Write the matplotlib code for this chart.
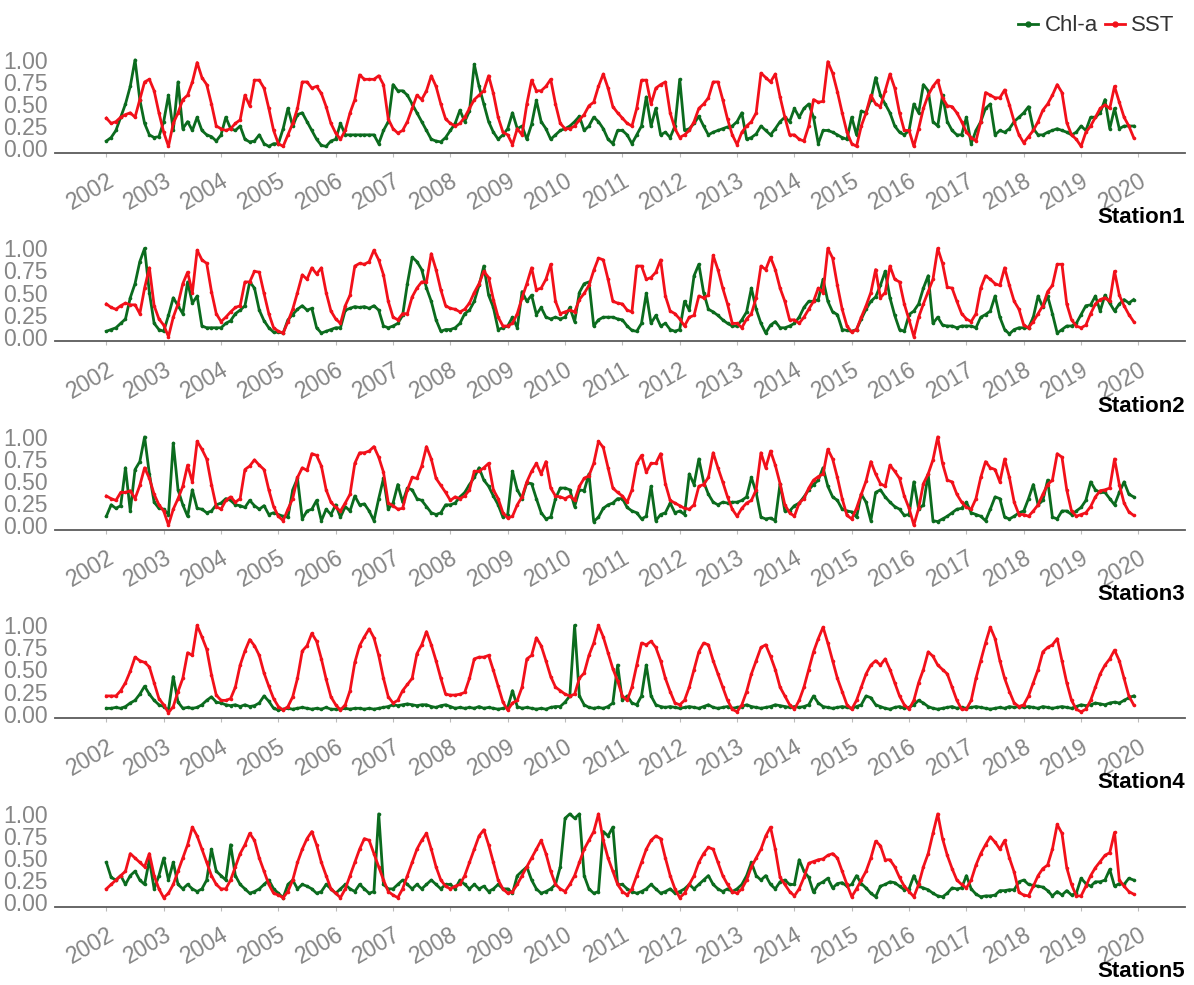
import numpy as np
import matplotlib
matplotlib.use('Agg')
import matplotlib.pyplot as plt
from matplotlib.lines import Line2D

# ==============================================================================
# --- 1. Data: monthly normalised Chl-a and SST, Jan 2002 - Dec 2019 ---
# ==============================================================================

years = list(range(2002, 2021))
stations = ['Station1', 'Station2', 'Station3', 'Station4', 'Station5']

chl_s1 = [
    0.08, 0.12, 0.20, 0.35, 0.50, 0.70, 1.00, 0.55, 0.28, 0.15, 0.12, 0.13,  # 2002
    0.30, 0.60, 0.20, 0.75, 0.22, 0.30, 0.20, 0.35, 0.20, 0.15, 0.13, 0.08,  # 2003
    0.15, 0.35, 0.22, 0.20, 0.25, 0.10, 0.07, 0.08, 0.15, 0.05, 0.02, 0.05,  # 2004
    0.05, 0.22, 0.45, 0.25, 0.38, 0.40, 0.30, 0.20, 0.10, 0.03, 0.02, 0.08,  # 2005
    0.10, 0.28, 0.15, 0.15, 0.15, 0.15, 0.15, 0.15, 0.15, 0.05, 0.20, 0.30,  # 2006
    0.72, 0.65, 0.65, 0.60, 0.50, 0.40, 0.30, 0.20, 0.10, 0.08, 0.07, 0.12,  # 2007
    0.20, 0.28, 0.43, 0.30, 0.42, 0.95, 0.70, 0.50, 0.30, 0.18, 0.10, 0.15,  # 2008
    0.22, 0.40, 0.22, 0.25, 0.10, 0.27, 0.54, 0.30, 0.22, 0.10, 0.15, 0.20,  # 2009
    0.22, 0.25, 0.30, 0.36, 0.20, 0.25, 0.35, 0.30, 0.22, 0.10, 0.05, 0.20,  # 2010
    0.20, 0.15, 0.05, 0.15, 0.25, 0.58, 0.25, 0.45, 0.15, 0.18, 0.12, 0.25,  # 2011
    0.78, 0.20, 0.22, 0.28, 0.36, 0.25, 0.15, 0.18, 0.20, 0.22, 0.24, 0.25,  # 2012
    0.30, 0.40, 0.10, 0.12, 0.16, 0.25, 0.20, 0.15, 0.22, 0.30, 0.35, 0.30,  # 2013
    0.45, 0.35, 0.45, 0.50, 0.35, 0.05, 0.20, 0.20, 0.18, 0.15, 0.12, 0.10,  # 2014
    0.35, 0.15, 0.42, 0.40, 0.55, 0.80, 0.60, 0.50, 0.40, 0.25, 0.18, 0.15,  # 2015
    0.20, 0.50, 0.40, 0.72, 0.65, 0.30, 0.25, 0.60, 0.30, 0.20, 0.15, 0.15,  # 2016
    0.35, 0.05, 0.20, 0.30, 0.45, 0.50, 0.15, 0.20, 0.18, 0.22, 0.30, 0.35,  # 2017
    0.40, 0.47, 0.22, 0.15, 0.15, 0.18, 0.20, 0.22, 0.20, 0.18, 0.15, 0.18,  # 2018
    0.25, 0.20, 0.35, 0.35, 0.40, 0.55, 0.22, 0.45, 0.22, 0.25, 0.25, 0.25,  # 2019
]
sst_s1 = [
    0.34, 0.28, 0.30, 0.35, 0.38, 0.40, 0.35, 0.55, 0.75, 0.78, 0.65, 0.40,
    0.18, 0.02, 0.28, 0.40, 0.55, 0.60, 0.75, 0.97, 0.80, 0.72, 0.50, 0.25,
    0.22, 0.20, 0.22, 0.28, 0.32, 0.60, 0.48, 0.77, 0.77, 0.68, 0.45, 0.20,
    0.05, 0.02, 0.15, 0.28, 0.45, 0.75, 0.75, 0.68, 0.70, 0.62, 0.47, 0.28,
    0.17, 0.10, 0.20, 0.40, 0.55, 0.83, 0.78, 0.78, 0.78, 0.82, 0.72, 0.33,
    0.22, 0.17, 0.20, 0.30, 0.45, 0.60, 0.55, 0.65, 0.82, 0.70, 0.50, 0.33,
    0.28, 0.25, 0.28, 0.35, 0.45, 0.55, 0.60, 0.65, 0.82, 0.62, 0.35, 0.18,
    0.15, 0.04, 0.22, 0.15, 0.50, 0.77, 0.65, 0.65, 0.70, 0.78, 0.50, 0.28,
    0.22, 0.22, 0.25, 0.32, 0.38, 0.48, 0.52, 0.70, 0.84, 0.68, 0.47, 0.40,
    0.34, 0.28, 0.25, 0.45, 0.77, 0.77, 0.50, 0.68, 0.72, 0.75, 0.40, 0.22,
    0.12, 0.15, 0.20, 0.30, 0.45, 0.50, 0.57, 0.75, 0.75, 0.55, 0.33, 0.15,
    0.04, 0.18, 0.25, 0.30, 0.40, 0.85, 0.80, 0.75, 0.84, 0.58, 0.35, 0.15,
    0.15, 0.10, 0.08, 0.25, 0.55, 0.52, 0.53, 0.98, 0.85, 0.64, 0.40, 0.18,
    0.05, 0.02, 0.25, 0.40, 0.60, 0.50, 0.47, 0.65, 0.84, 0.68, 0.40, 0.20,
    0.20, 0.02, 0.22, 0.45, 0.60, 0.70, 0.77, 0.57, 0.48, 0.47, 0.40, 0.30,
    0.18, 0.12, 0.08, 0.30, 0.63, 0.60, 0.57, 0.57, 0.66, 0.49, 0.30, 0.15,
    0.06, 0.13, 0.20, 0.30, 0.43, 0.50, 0.60, 0.72, 0.63, 0.29, 0.15, 0.10,
    0.02, 0.18, 0.25, 0.35, 0.45, 0.49, 0.45, 0.70, 0.52, 0.35, 0.25, 0.12,
]

chl_s2 = [
    0.06, 0.08, 0.10, 0.15, 0.20, 0.44, 0.60, 0.85, 1.00, 0.50, 0.15, 0.08,
    0.06, 0.24, 0.44, 0.35, 0.26, 0.62, 0.38, 0.46, 0.12, 0.10, 0.10, 0.10,
    0.10, 0.15, 0.18, 0.26, 0.30, 0.35, 0.62, 0.55, 0.30, 0.18, 0.10, 0.05,
    0.05, 0.04, 0.19, 0.25, 0.31, 0.35, 0.30, 0.32, 0.10, 0.04, 0.06, 0.08,
    0.10, 0.10, 0.30, 0.32, 0.34, 0.33, 0.34, 0.32, 0.35, 0.30, 0.12, 0.10,
    0.12, 0.15, 0.24, 0.60, 0.90, 0.85, 0.76, 0.55, 0.40, 0.19, 0.06, 0.08,
    0.08, 0.10, 0.15, 0.26, 0.30, 0.40, 0.58, 0.80, 0.47, 0.33, 0.08, 0.10,
    0.12, 0.22, 0.10, 0.51, 0.40, 0.47, 0.25, 0.33, 0.22, 0.20, 0.22, 0.20,
    0.22, 0.33, 0.17, 0.50, 0.60, 0.62, 0.12, 0.19, 0.22, 0.22, 0.22, 0.20,
    0.19, 0.12, 0.07, 0.06, 0.15, 0.49, 0.15, 0.24, 0.12, 0.15, 0.08, 0.06,
    0.08, 0.40, 0.30, 0.69, 0.82, 0.50, 0.31, 0.28, 0.24, 0.19, 0.15, 0.12,
    0.12, 0.19, 0.28, 0.55, 0.31, 0.15, 0.04, 0.13, 0.17, 0.10, 0.10, 0.12,
    0.15, 0.22, 0.33, 0.40, 0.40, 0.42, 0.65, 0.40, 0.28, 0.25, 0.08, 0.07,
    0.06, 0.08, 0.20, 0.31, 0.40, 0.45, 0.58, 0.74, 0.44, 0.24, 0.08, 0.06,
    0.25, 0.29, 0.37, 0.55, 0.69, 0.15, 0.22, 0.13, 0.12, 0.12, 0.10, 0.12,
    0.12, 0.12, 0.10, 0.22, 0.25, 0.29, 0.46, 0.22, 0.08, 0.03, 0.08, 0.10,
    0.10, 0.10, 0.22, 0.46, 0.33, 0.46, 0.26, 0.04, 0.08, 0.12, 0.12, 0.15,
    0.25, 0.35, 0.36, 0.46, 0.29, 0.47, 0.38, 0.29, 0.37, 0.42, 0.38, 0.42,
]
sst_s2 = [
    0.37, 0.33, 0.31, 0.35, 0.38, 0.36, 0.36, 0.26, 0.55, 0.78, 0.35, 0.20,
    0.13, 0.00, 0.22, 0.37, 0.60, 0.73, 0.50, 0.98, 0.87, 0.83, 0.51, 0.26,
    0.17, 0.22, 0.28, 0.33, 0.35, 0.62, 0.62, 0.74, 0.73, 0.49, 0.26, 0.10,
    0.06, 0.04, 0.17, 0.31, 0.50, 0.70, 0.65, 0.78, 0.71, 0.78, 0.50, 0.29,
    0.20, 0.15, 0.35, 0.47, 0.80, 0.83, 0.82, 0.85, 0.98, 0.87, 0.70, 0.40,
    0.22, 0.19, 0.26, 0.26, 0.45, 0.55, 0.62, 0.62, 0.94, 0.76, 0.53, 0.35,
    0.32, 0.31, 0.28, 0.31, 0.38, 0.50, 0.60, 0.74, 0.67, 0.42, 0.22, 0.12,
    0.12, 0.15, 0.26, 0.44, 0.60, 0.78, 0.53, 0.55, 0.65, 0.82, 0.40, 0.26,
    0.28, 0.30, 0.28, 0.42, 0.49, 0.58, 0.75, 0.89, 0.87, 0.65, 0.40, 0.38,
    0.37, 0.30, 0.28, 0.80, 0.80, 0.65, 0.67, 0.73, 0.87, 0.46, 0.29, 0.26,
    0.20, 0.12, 0.22, 0.24, 0.46, 0.44, 0.47, 0.92, 0.76, 0.55, 0.37, 0.15,
    0.15, 0.10, 0.20, 0.26, 0.44, 0.80, 0.76, 0.90, 0.76, 0.55, 0.40, 0.19,
    0.19, 0.15, 0.22, 0.31, 0.40, 0.55, 0.50, 1.00, 0.89, 0.58, 0.31, 0.12,
    0.05, 0.08, 0.22, 0.35, 0.50, 0.76, 0.44, 0.50, 0.80, 0.65, 0.62, 0.37,
    0.19, 0.00, 0.22, 0.37, 0.51, 0.65, 1.00, 0.83, 0.56, 0.55, 0.40, 0.26,
    0.20, 0.17, 0.26, 0.55, 0.69, 0.65, 0.60, 0.58, 0.78, 0.58, 0.40, 0.31,
    0.13, 0.10, 0.17, 0.26, 0.35, 0.51, 0.58, 0.82, 0.82, 0.37, 0.19, 0.12,
    0.10, 0.13, 0.26, 0.37, 0.42, 0.44, 0.40, 0.74, 0.47, 0.35, 0.25, 0.17,
]

chl_s3 = [
    0.10, 0.23, 0.19, 0.22, 0.65, 0.16, 0.63, 0.72, 1.00, 0.58, 0.26, 0.19,
    0.18, 0.12, 0.93, 0.40, 0.23, 0.10, 0.40, 0.19, 0.18, 0.14, 0.16, 0.23,
    0.25, 0.30, 0.28, 0.23, 0.22, 0.20, 0.28, 0.22, 0.18, 0.22, 0.12, 0.14,
    0.12, 0.10, 0.09, 0.40, 0.53, 0.07, 0.16, 0.18, 0.28, 0.05, 0.18, 0.12,
    0.23, 0.09, 0.21, 0.16, 0.33, 0.23, 0.24, 0.16, 0.05, 0.30, 0.53, 0.18,
    0.25, 0.46, 0.26, 0.42, 0.40, 0.30, 0.28, 0.21, 0.14, 0.12, 0.14, 0.23,
    0.23, 0.25, 0.32, 0.37, 0.46, 0.54, 0.65, 0.51, 0.44, 0.33, 0.23, 0.09,
    0.12, 0.61, 0.40, 0.30, 0.48, 0.47, 0.30, 0.14, 0.07, 0.09, 0.30, 0.42,
    0.42, 0.40, 0.21, 0.40, 0.39, 0.58, 0.04, 0.09, 0.19, 0.23, 0.25, 0.30,
    0.30, 0.20, 0.16, 0.14, 0.07, 0.10, 0.44, 0.05, 0.12, 0.14, 0.25, 0.14,
    0.16, 0.12, 0.58, 0.46, 0.75, 0.49, 0.35, 0.26, 0.23, 0.26, 0.25, 0.26,
    0.26, 0.28, 0.32, 0.54, 0.37, 0.09, 0.07, 0.08, 0.05, 0.47, 0.16, 0.16,
    0.22, 0.25, 0.32, 0.40, 0.46, 0.51, 0.65, 0.44, 0.32, 0.28, 0.18, 0.16,
    0.15, 0.09, 0.35, 0.26, 0.05, 0.37, 0.40, 0.32, 0.26, 0.21, 0.18, 0.11,
    0.12, 0.49, 0.18, 0.23, 0.58, 0.05, 0.04, 0.07, 0.10, 0.14, 0.18, 0.19,
    0.26, 0.14, 0.12, 0.10, 0.05, 0.18, 0.32, 0.30, 0.09, 0.07, 0.10, 0.14,
    0.16, 0.30, 0.46, 0.23, 0.28, 0.51, 0.09, 0.07, 0.16, 0.16, 0.12, 0.16,
    0.20, 0.28, 0.49, 0.40, 0.37, 0.37, 0.30, 0.23, 0.37, 0.49, 0.35, 0.32,
]
sst_s3 = [
    0.33, 0.30, 0.28, 0.37, 0.37, 0.39, 0.30, 0.45, 0.65, 0.53, 0.35, 0.23,
    0.16, 0.00, 0.18, 0.30, 0.44, 0.68, 0.49, 0.95, 0.86, 0.75, 0.46, 0.21,
    0.18, 0.28, 0.32, 0.26, 0.30, 0.63, 0.67, 0.74, 0.68, 0.63, 0.40, 0.21,
    0.10, 0.05, 0.18, 0.30, 0.54, 0.65, 0.62, 0.81, 0.79, 0.67, 0.40, 0.26,
    0.20, 0.16, 0.25, 0.35, 0.70, 0.82, 0.82, 0.84, 0.89, 0.77, 0.60, 0.25,
    0.22, 0.18, 0.19, 0.40, 0.54, 0.53, 0.67, 0.89, 0.75, 0.53, 0.45, 0.37,
    0.28, 0.32, 0.30, 0.33, 0.40, 0.61, 0.61, 0.65, 0.70, 0.40, 0.30, 0.14,
    0.08, 0.10, 0.23, 0.32, 0.49, 0.61, 0.70, 0.58, 0.72, 0.42, 0.33, 0.32,
    0.30, 0.33, 0.28, 0.44, 0.53, 0.56, 0.70, 0.95, 0.88, 0.65, 0.42, 0.37,
    0.33, 0.26, 0.40, 0.70, 0.79, 0.60, 0.70, 0.70, 0.81, 0.47, 0.28, 0.25,
    0.22, 0.19, 0.18, 0.23, 0.44, 0.46, 0.54, 0.82, 0.65, 0.49, 0.32, 0.18,
    0.10, 0.19, 0.25, 0.28, 0.40, 0.82, 0.65, 0.84, 0.68, 0.47, 0.23, 0.14,
    0.10, 0.25, 0.30, 0.42, 0.51, 0.55, 0.58, 0.86, 0.75, 0.54, 0.30, 0.11,
    0.07, 0.19, 0.35, 0.50, 0.72, 0.58, 0.47, 0.44, 0.68, 0.61, 0.53, 0.33,
    0.19, 0.00, 0.19, 0.47, 0.58, 0.74, 1.00, 0.70, 0.51, 0.49, 0.35, 0.26,
    0.20, 0.18, 0.30, 0.54, 0.72, 0.65, 0.63, 0.49, 0.75, 0.54, 0.26, 0.12,
    0.12, 0.10, 0.16, 0.23, 0.35, 0.46, 0.51, 0.81, 0.77, 0.40, 0.16, 0.10,
    0.12, 0.14, 0.21, 0.32, 0.39, 0.40, 0.42, 0.75, 0.46, 0.25, 0.15, 0.11,
]

chl_s4 = [
    0.06, 0.06, 0.07, 0.06, 0.08, 0.12, 0.15, 0.22, 0.31, 0.22, 0.15, 0.10,
    0.08, 0.04, 0.42, 0.13, 0.06, 0.07, 0.06, 0.07, 0.10, 0.15, 0.19, 0.13,
    0.12, 0.10, 0.09, 0.10, 0.08, 0.10, 0.08, 0.09, 0.12, 0.20, 0.14, 0.06,
    0.04, 0.05, 0.06, 0.05, 0.06, 0.07, 0.06, 0.05, 0.06, 0.05, 0.07, 0.05,
    0.05, 0.05, 0.06, 0.05, 0.06, 0.06, 0.05, 0.06, 0.05, 0.06, 0.07, 0.08,
    0.10, 0.09, 0.10, 0.11, 0.10, 0.09, 0.10, 0.10, 0.08, 0.07, 0.09, 0.10,
    0.08, 0.06, 0.07, 0.06, 0.07, 0.06, 0.08, 0.06, 0.07, 0.06, 0.05, 0.06,
    0.07, 0.26, 0.08, 0.06, 0.07, 0.06, 0.05, 0.06, 0.05, 0.07, 0.08, 0.08,
    0.13, 0.20, 1.00, 0.20, 0.10, 0.07, 0.06, 0.07, 0.06, 0.08, 0.12, 0.55,
    0.15, 0.20, 0.12, 0.10, 0.20, 0.55, 0.20, 0.10, 0.08, 0.07, 0.08, 0.07,
    0.06, 0.07, 0.08, 0.07, 0.06, 0.08, 0.10, 0.07, 0.06, 0.07, 0.08, 0.06,
    0.07, 0.08, 0.10, 0.08, 0.07, 0.06, 0.07, 0.08, 0.10, 0.09, 0.08, 0.07,
    0.08, 0.07, 0.08, 0.10, 0.20, 0.12, 0.08, 0.07, 0.06, 0.07, 0.08, 0.07,
    0.06, 0.08, 0.10, 0.20, 0.18, 0.10, 0.08, 0.06, 0.05, 0.07, 0.08, 0.06,
    0.07, 0.10, 0.15, 0.12, 0.08, 0.06, 0.05, 0.06, 0.07, 0.08, 0.06, 0.07,
    0.06, 0.07, 0.08, 0.07, 0.06, 0.05, 0.06, 0.07, 0.06, 0.08, 0.07, 0.08,
    0.07, 0.08, 0.07, 0.06, 0.08, 0.07, 0.06, 0.07, 0.08, 0.07, 0.06, 0.08,
    0.10, 0.09, 0.10, 0.12, 0.11, 0.10, 0.12, 0.13, 0.12, 0.15, 0.18, 0.20,
]
sst_s4 = [
    0.20, 0.20, 0.20, 0.26, 0.35, 0.48, 0.64, 0.60, 0.58, 0.53, 0.35, 0.17,
    0.10, 0.01, 0.08, 0.25, 0.40, 0.69, 0.66, 1.00, 0.87, 0.73, 0.44, 0.21,
    0.15, 0.15, 0.17, 0.30, 0.55, 0.71, 0.84, 0.77, 0.66, 0.46, 0.31, 0.17,
    0.08, 0.04, 0.08, 0.19, 0.40, 0.71, 0.77, 0.91, 0.82, 0.62, 0.39, 0.19,
    0.10, 0.04, 0.10, 0.26, 0.58, 0.77, 0.87, 0.96, 0.86, 0.66, 0.40, 0.19,
    0.12, 0.15, 0.26, 0.33, 0.40, 0.68, 0.78, 0.93, 0.78, 0.60, 0.40, 0.22,
    0.21, 0.21, 0.22, 0.24, 0.40, 0.62, 0.64, 0.64, 0.66, 0.49, 0.31, 0.13,
    0.04, 0.12, 0.15, 0.30, 0.62, 0.66, 0.86, 0.77, 0.60, 0.42, 0.30, 0.26,
    0.22, 0.20, 0.22, 0.40, 0.46, 0.66, 0.80, 1.00, 0.87, 0.69, 0.51, 0.37,
    0.20, 0.15, 0.30, 0.55, 0.80, 0.78, 0.82, 0.75, 0.60, 0.40, 0.25, 0.12,
    0.10, 0.15, 0.30, 0.50, 0.70, 0.80, 0.78, 0.60, 0.45, 0.30, 0.15, 0.05,
    0.02, 0.10, 0.25, 0.45, 0.60, 0.75, 0.78, 0.65, 0.50, 0.30, 0.20, 0.10,
    0.05, 0.15, 0.30, 0.50, 0.70, 0.85, 0.98, 0.80, 0.60, 0.40, 0.25, 0.10,
    0.05, 0.15, 0.30, 0.45, 0.55, 0.60, 0.55, 0.62, 0.50, 0.35, 0.20, 0.10,
    0.05, 0.15, 0.35, 0.50, 0.70, 0.65, 0.55, 0.50, 0.45, 0.30, 0.15, 0.05,
    0.05, 0.15, 0.40, 0.60, 0.80, 0.98, 0.85, 0.60, 0.40, 0.25, 0.12, 0.08,
    0.10, 0.20, 0.35, 0.50, 0.70, 0.75, 0.78, 0.85, 0.60, 0.35, 0.15, 0.05,
    0.02, 0.05, 0.15, 0.30, 0.45, 0.55, 0.62, 0.72, 0.60, 0.40, 0.20, 0.10,
]

chl_s5 = [
    0.45, 0.28, 0.25, 0.30, 0.20, 0.30, 0.35, 0.25, 0.20, 0.48, 0.15, 0.30,
    0.50, 0.25, 0.45, 0.20, 0.15, 0.20, 0.15, 0.12, 0.15, 0.25, 0.60, 0.35,
    0.30, 0.25, 0.65, 0.30, 0.20, 0.15, 0.10, 0.12, 0.15, 0.20, 0.25, 0.15,
    0.10, 0.05, 0.20, 0.25, 0.15, 0.20, 0.18, 0.15, 0.10, 0.12, 0.20, 0.15,
    0.10, 0.15, 0.20, 0.15, 0.12, 0.20, 0.15, 0.10, 0.12, 1.00, 0.20, 0.15,
    0.15, 0.20, 0.25, 0.20, 0.15, 0.20, 0.15, 0.20, 0.25, 0.20, 0.15, 0.20,
    0.20, 0.15, 0.25, 0.20, 0.15, 0.20, 0.15, 0.18, 0.12, 0.15, 0.20, 0.15,
    0.15, 0.10, 0.30, 0.35, 0.40, 0.25, 0.15, 0.10, 0.12, 0.15, 0.20, 0.40,
    0.95, 1.00, 0.95, 1.00, 0.30, 0.15, 0.10, 0.12, 0.80, 0.75, 0.85, 0.20,
    0.20, 0.15, 0.12, 0.10, 0.12, 0.15, 0.20, 0.15, 0.10, 0.12, 0.15, 0.10,
    0.12, 0.15, 0.20, 0.15, 0.20, 0.25, 0.30, 0.20, 0.15, 0.12, 0.15, 0.12,
    0.15, 0.20, 0.30, 0.45, 0.30, 0.25, 0.30, 0.20, 0.15, 0.23, 0.25, 0.20,
    0.20, 0.48, 0.35, 0.28, 0.11, 0.20, 0.23, 0.27, 0.16, 0.21, 0.22, 0.18,
    0.20, 0.30, 0.21, 0.16, 0.10, 0.06, 0.18, 0.20, 0.23, 0.22, 0.18, 0.14,
    0.15, 0.30, 0.18, 0.16, 0.14, 0.10, 0.07, 0.06, 0.10, 0.16, 0.15, 0.16,
    0.30, 0.15, 0.09, 0.06, 0.07, 0.07, 0.08, 0.13, 0.13, 0.14, 0.14, 0.23,
    0.25, 0.20, 0.19, 0.18, 0.17, 0.13, 0.07, 0.12, 0.08, 0.13, 0.08, 0.10,
    0.27, 0.21, 0.18, 0.23, 0.23, 0.25, 0.37, 0.18, 0.21, 0.20, 0.27, 0.25,
]
sst_s5 = [
    0.15, 0.20, 0.25, 0.30, 0.35, 0.55, 0.50, 0.45, 0.40, 0.55, 0.30, 0.15,
    0.05, 0.10, 0.20, 0.35, 0.50, 0.65, 0.85, 0.75, 0.60, 0.45, 0.30, 0.20,
    0.15, 0.15, 0.25, 0.40, 0.55, 0.65, 0.78, 0.70, 0.50, 0.35, 0.20, 0.10,
    0.08, 0.05, 0.12, 0.25, 0.45, 0.60, 0.72, 0.80, 0.65, 0.45, 0.30, 0.15,
    0.10, 0.05, 0.15, 0.30, 0.45, 0.60, 0.72, 0.70, 0.55, 0.40, 0.25, 0.12,
    0.08, 0.05, 0.15, 0.30, 0.45, 0.60, 0.70, 0.78, 0.60, 0.40, 0.25, 0.18,
    0.15, 0.18, 0.20, 0.30, 0.45, 0.60, 0.75, 0.82, 0.65, 0.45, 0.25, 0.15,
    0.10, 0.12, 0.20, 0.30, 0.40, 0.50, 0.60, 0.70, 0.55, 0.35, 0.20, 0.15,
    0.12, 0.20, 0.30, 0.45, 0.60, 0.70, 0.80, 1.00, 0.70, 0.50, 0.35, 0.20,
    0.12, 0.08, 0.15, 0.30, 0.45, 0.60, 0.70, 0.75, 0.72, 0.50, 0.30, 0.15,
    0.05, 0.10, 0.20, 0.30, 0.45, 0.55, 0.62, 0.60, 0.45, 0.30, 0.20, 0.12,
    0.10, 0.15, 0.25, 0.40, 0.50, 0.60, 0.75, 0.85, 0.60, 0.28, 0.20, 0.12,
    0.07, 0.15, 0.28, 0.44, 0.46, 0.48, 0.49, 0.53, 0.55, 0.50, 0.35, 0.20,
    0.06, 0.15, 0.25, 0.35, 0.50, 0.69, 0.64, 0.48, 0.48, 0.40, 0.28, 0.18,
    0.12, 0.06, 0.20, 0.40, 0.55, 0.78, 1.00, 0.72, 0.53, 0.38, 0.25, 0.20,
    0.16, 0.25, 0.42, 0.55, 0.65, 0.74, 0.68, 0.60, 0.70, 0.50, 0.34, 0.11,
    0.08, 0.07, 0.18, 0.30, 0.38, 0.42, 0.60, 0.88, 0.78, 0.39, 0.20, 0.07,
    0.07, 0.18, 0.30, 0.39, 0.46, 0.53, 0.56, 0.79, 0.25, 0.18, 0.12, 0.09,
]

chl_all = [chl_s1, chl_s2, chl_s3, chl_s4, chl_s5]
sst_all = [sst_s1, sst_s2, sst_s3, sst_s4, sst_s5]

# ==============================================================================
# --- 2. Style ---
# ==============================================================================

plt.rcParams['font.family'] = ['Liberation Sans Narrow', 'Liberation Sans', 'DejaVu Sans']
GREEN = '#0B6B1E'
RED = '#F2101A'
TICK_GREY = '#858585'
AXIS_GREY = '#5A5A5A'

W, H = 1194, 985
fig = plt.figure(figsize=(W / 100, H / 100), dpi=100)

n = len(chl_s1)
t = 2002 + np.arange(n) / 12.0
span = t[-1] - t[0]
xlim = (t[0] - 0.05 * span, t[-1] + 0.05 * span)

left_px, right_px = 55, 1185
ax_h_px = 97
first_bottom_px = 152.5
step_px = 188.5

# ==============================================================================
# --- 3. Panels ---
# ==============================================================================

for k, name in enumerate(stations):
    bottom_px = first_bottom_px + k * step_px
    ax = fig.add_axes([left_px / W, 1 - bottom_px / H,
                       (right_px - left_px) / W, ax_h_px / H])

    ax.plot(t, chl_all[k], color=GREEN, lw=2.0, marker='o', ms=2.6,
            mew=0, zorder=2)
    ax.plot(t, sst_all[k], color=RED, lw=2.0, marker='o', ms=2.6,
            mew=0, zorder=3)

    ax.set_xlim(*xlim)
    ax.set_ylim(-0.05, 1.05)
    ax.set_yticks([0, 0.25, 0.5, 0.75, 1.0])
    ax.set_yticklabels(['0.00', '0.25', '0.50', '0.75', '1.00'])
    ax.set_xticks(years)
    ax.set_xticklabels([str(y) for y in years], rotation=30, ha='right',
                       rotation_mode='anchor')

    for s in ['top', 'right', 'left']:
        ax.spines[s].set_visible(False)
    ax.spines['bottom'].set_color(AXIS_GREY)
    ax.spines['bottom'].set_linewidth(1.3)

    ax.tick_params(axis='y', length=0, pad=5, labelsize=16.5,
                   labelcolor=TICK_GREY)
    ax.tick_params(axis='x', length=3, width=0.8, color='#BBBBBB', pad=9,
                   labelsize=16.5, labelcolor=TICK_GREY)
    ax.patch.set_alpha(0)

    fig.text(right_px / W, 1 - (bottom_px + 65) / H, name, ha='right',
             va='center', fontsize=16, fontweight='bold', color='black')

# legend at the top right
handles = [Line2D([0], [0], color=GREEN, lw=2.0, marker='o', ms=3.5),
           Line2D([0], [0], color=RED, lw=2.0, marker='o', ms=3.5)]
fig.legend(handles, ['Chl-a', 'SST'], loc='upper right',
           bbox_to_anchor=(1188 / W, 1 - 2 / H), ncol=2, frameon=False,
           fontsize=16, handlelength=0.9, handletextpad=0.3,
           columnspacing=0.3, borderpad=0.1, labelcolor='#333333')

fig.savefig('out.png', dpi=100)
plt.close(fig)
